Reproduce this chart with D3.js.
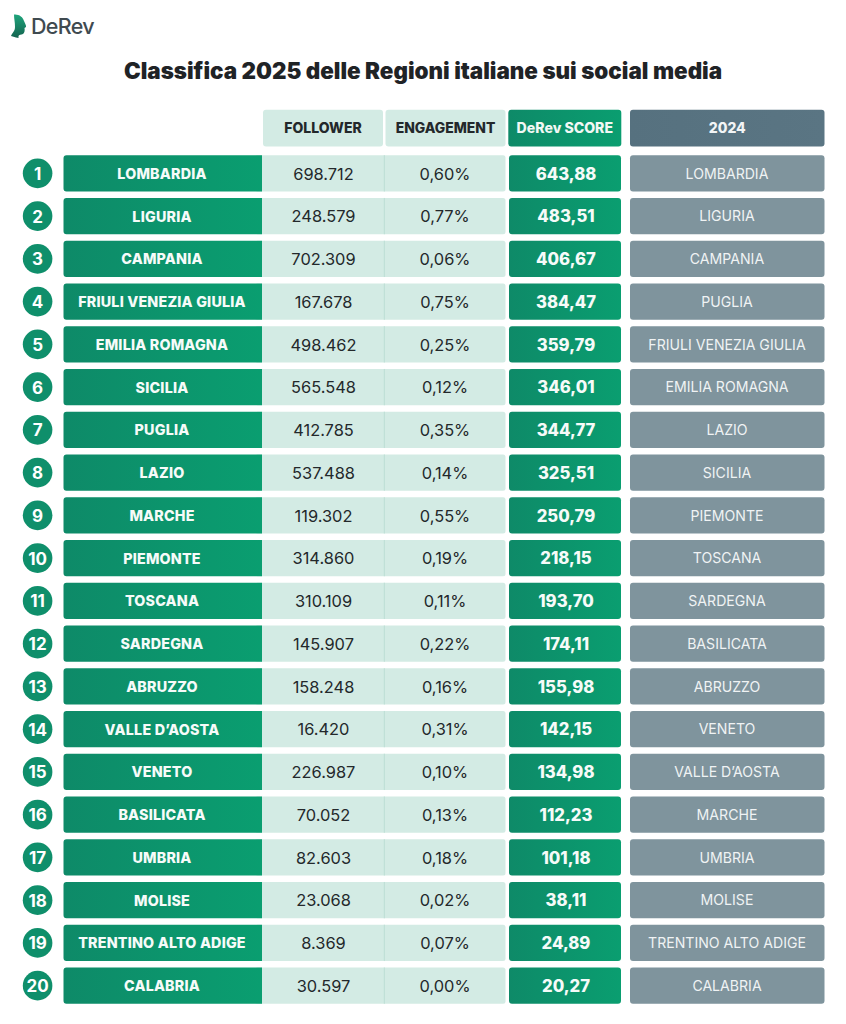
<!DOCTYPE html>
<html>
<head>
<meta charset="utf-8">
<script src="https://cdn.jsdelivr.net/npm/d3@7"></script>
<style>
  html, body { margin: 0; padding: 0; background: #fff; }
  svg { display: block; font-family: Inter, sans-serif; }
</style>
</head>
<body>
<svg id="chart" width="846" height="1024"></svg>
<script>
const regions = ['LOMBARDIA', 'LIGURIA', 'CAMPANIA', 'FRIULI VENEZIA GIULIA', 'EMILIA ROMAGNA', 'SICILIA', 'PUGLIA', 'LAZIO', 'MARCHE', 'PIEMONTE', 'TOSCANA', 'SARDEGNA', 'ABRUZZO', 'VALLE D\u2019AOSTA', 'VENETO', 'BASILICATA', 'UMBRIA', 'MOLISE', 'TRENTINO ALTO ADIGE', 'CALABRIA'];
const followers = ['698.712', '248.579', '702.309', '167.678', '498.462', '565.548', '412.785', '537.488', '119.302', '314.860', '310.109', '145.907', '158.248', '16.420', '226.987', '70.052', '82.603', '23.068', '8.369', '30.597'];
const engagement = ['0,60%', '0,77%', '0,06%', '0,75%', '0,25%', '0,12%', '0,35%', '0,14%', '0,55%', '0,19%', '0,11%', '0,22%', '0,16%', '0,31%', '0,10%', '0,13%', '0,18%', '0,02%', '0,07%', '0,00%'];
const scores = ['643,88', '483,51', '406,67', '384,47', '359,79', '346,01', '344,77', '325,51', '250,79', '218,15', '193,70', '174,11', '155,98', '142,15', '134,98', '112,23', '101,18', '38,11', '24,89', '20,27'];
const ranking2024 = ['LOMBARDIA', 'LIGURIA', 'CAMPANIA', 'PUGLIA', 'FRIULI VENEZIA GIULIA', 'EMILIA ROMAGNA', 'LAZIO', 'SICILIA', 'PIEMONTE', 'TOSCANA', 'SARDEGNA', 'BASILICATA', 'ABRUZZO', 'VENETO', 'VALLE D\u2019AOSTA', 'MARCHE', 'UMBRIA', 'MOLISE', 'TRENTINO ALTO ADIGE', 'CALABRIA'];
const ranks = d3.range(1, regions.length + 1);

const svg = d3.select('#chart');
const defs = svg.append('defs');

const green = defs.append('linearGradient').attr('id', 'green');
green.append('stop').attr('offset', '0%').attr('stop-color', '#0e8a68');
green.append('stop').attr('offset', '100%').attr('stop-color', '#0a9e70');

const slate = defs.append('linearGradient').attr('id', 'slate');
slate.append('stop').attr('offset', '0%').attr('stop-color', '#56717f');
slate.append('stop').attr('offset', '100%').attr('stop-color', '#5a7583');

const logoGreen = defs.append('linearGradient').attr('id', 'logoGreen').attr('x2', 0).attr('y2', 1);
logoGreen.append('stop').attr('offset', '0%').attr('stop-color', '#1fa57c');
logoGreen.append('stop').attr('offset', '100%').attr('stop-color', '#14634f');

const y = d3.scaleBand()
    .domain(ranks)
    .range([155.2, 1003.8])
    .paddingInner(0.15);

const textColor = '#23282b';

// logo
svg.append('path')
    .attr('d', 'M14 14.5 C19 14 23 17 24 21 C25 23 26.5 26 26 27 L24.5 28 C25 30 24.5 33 23 34 C21 35 19 34.5 18.5 36 L18.5 38 L16 37.5 L11 36 C12 33 15 31.5 15 27 C15 22 14 19 14 14.5 Z')
    .attr('fill', 'url(#logoGreen)');
svg.append('text')
    .attr('x', 31).attr('y', 34.3)
    .attr('font-size', 21.5).attr('font-weight', 500)
    .attr('letter-spacing', -0.7)
    .attr('fill', '#3f4a50')
    .text('DeRev');

// title
svg.append('text')
    .attr('x', 423).attr('y', 78.8)
    .attr('text-anchor', 'middle')
    .attr('font-size', 22.4).attr('font-weight', 900)
    .attr('fill', '#1f2326')
    .text('Classifica 2025 delle Regioni italiane sui social media');

// header
const headers = [
    { label: 'FOLLOWER', x: 263, w: 120, fill: '#d3ebe4', color: textColor, size: 14 },
    { label: 'ENGAGEMENT', x: 385.5, w: 120, fill: '#d3ebe4', color: textColor, size: 13.9 },
    { label: 'DeRev SCORE', x: 508.3, w: 113, fill: 'url(#green)', color: '#f2f8f5', size: 14.1 },
    { label: '2024', x: 630, w: 194.5, fill: 'url(#slate)', color: '#f2f5f6', size: 14 }
];
const head = svg.append('g').selectAll('g').data(headers).join('g');
head.append('rect')
    .attr('x', d => d.x).attr('y', 109.8)
    .attr('width', d => d.w).attr('height', 36.8)
    .attr('rx', 3)
    .attr('fill', d => d.fill);
head.append('text')
    .attr('x', d => d.x + d.w / 2).attr('y', 128.2)
    .attr('dy', '0.36em')
    .attr('text-anchor', 'middle')
    .attr('font-size', d => d.size).attr('font-weight', 800)
    .attr('fill', d => d.color)
    .text(d => d.label);

// rows
const rows = svg.append('g').selectAll('g').data(ranks).join('g')
    .attr('transform', d => `translate(0,${y(d)})`);
const rowH = y.bandwidth();
const midY = rowH / 2 + 0.3;

rows.append('circle')
    .attr('cx', 37.6).attr('cy', rowH / 2).attr('r', 14.8)
    .attr('fill', '#0f8f6b');
rows.append('text')
    .attr('x', 37.6).attr('y', midY).attr('dy', '0.36em')
    .attr('text-anchor', 'middle')
    .attr('font-size', 17).attr('font-weight', 700)
    .attr('fill', '#fff')
    .text(d => d);

// follower + engagement band, drawn below the name cell
rows.append('rect')
    .attr('x', 255).attr('width', 250.5).attr('height', rowH).attr('rx', 2.5)
    .attr('fill', '#d3ebe4');
rows.append('line')
    .attr('x1', 384.3).attr('x2', 384.3).attr('y1', 0).attr('y2', rowH)
    .attr('stroke', '#bcded4').attr('stroke-width', 1);

rows.append('path')
    .attr('d', `M262 0 H66.5 a3 3 0 0 0 -3 3 V${rowH - 3} a3 3 0 0 0 3 3 H262 Z`)
    .attr('fill', 'url(#green)');
rows.append('text')
    .attr('x', 162).attr('y', midY).attr('dy', '0.36em')
    .attr('text-anchor', 'middle')
    .attr('font-size', 14.3).attr('font-weight', 800)
    .attr('letter-spacing', 0.2)
    .attr('fill', '#f6fbf9')
    .text(d => regions[d - 1]);

rows.append('text')
    .attr('x', 323.5).attr('y', midY).attr('dy', '0.36em')
    .attr('text-anchor', 'middle')
    .attr('font-size', 16.4).attr('font-weight', 400)
    .attr('fill', textColor)
    .text(d => followers[d - 1]);
rows.append('text')
    .attr('x', 445).attr('y', midY).attr('dy', '0.36em')
    .attr('text-anchor', 'middle')
    .attr('font-size', 16.4).attr('font-weight', 400)
    .attr('fill', textColor)
    .text(d => engagement[d - 1]);

rows.append('rect')
    .attr('x', 509).attr('width', 112).attr('height', rowH).attr('rx', 3)
    .attr('fill', 'url(#green)');
rows.append('text')
    .attr('x', 566).attr('y', midY).attr('dy', '0.36em')
    .attr('text-anchor', 'middle')
    .attr('font-size', 16.7).attr('font-weight', 800)
    .attr('fill', '#f6fbf9')
    .text(d => scores[d - 1]);

rows.append('rect')
    .attr('x', 630).attr('width', 194.5).attr('height', rowH).attr('rx', 3)
    .attr('fill', '#7f949d');
rows.append('text')
    .attr('x', 727).attr('y', midY).attr('dy', '0.36em')
    .attr('text-anchor', 'middle')
    .attr('font-size', 14.1).attr('font-weight', 400)
    .attr('fill', '#f0f3f4')
    .text(d => ranking2024[d - 1]);
</script>
</body>
</html>
